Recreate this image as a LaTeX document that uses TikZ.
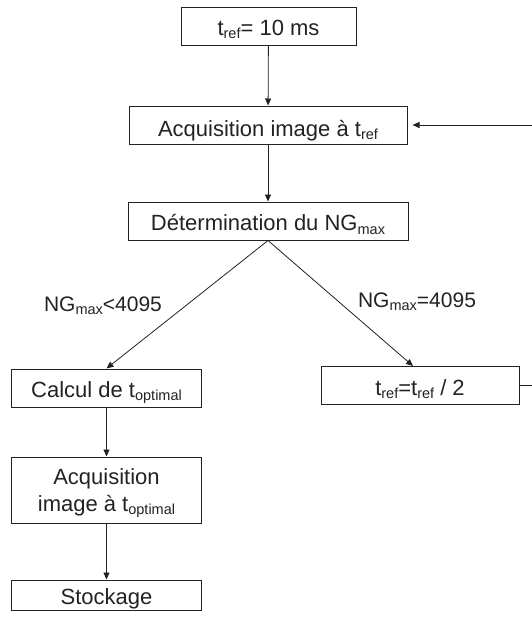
\documentclass[tikz,border=0pt]{standalone}
\usepackage{fontspec}
\setmainfont{Liberation Sans}
\usetikzlibrary{arrows.meta}
\newcommand\sbs[1]{\raisebox{-0.3ex}{\fontsize{14.5}{15}\selectfont #1}}
\definecolor{ink}{HTML}{222222}
\begin{document}
\begin{tikzpicture}[x=1pt,y=-1pt,
  box/.style={draw=ink,line width=1pt,rectangle,inner sep=0pt,text=ink,
    font=\fontsize{22}{25}\selectfont,align=center},
  one/.style={text height=#1,text depth=0pt},
  one/.default=19.5pt,
  lab/.style={text=ink,font=\fontsize{21}{24}\selectfont,inner sep=0pt},
  arr/.style={draw=ink,line width=0.8pt,-{Triangle[length=7pt,width=6pt]}}]
\clip (0,0) rectangle (532,619);
\node[box,one=18pt,minimum width=175pt,minimum height=38pt] (b1) at (268.5,26) {t\sbs{ref}= 10 ms};
\node[box,one=22pt,minimum width=278pt,minimum height=38pt] (b2) at (268,125) {Acquisition image à t\sbs{ref}};
\node[box,one,minimum width=280pt,minimum height=38pt] (b3) at (268,221) {Détermination du NG\sbs{max}};
\node[box,one=18pt,minimum width=190pt,minimum height=38pt] (b4) at (106.5,388) {Calcul de t\sbs{optimal}};
\node[box,one=19pt,minimum width=198pt,minimum height=38pt] (b5) at (420,385.5) {t\sbs{ref}=t\sbs{ref} / 2};
\node[box,minimum width=190pt,minimum height=66pt] (b6) at (106.5,490) {\rule{0pt}{22pt}Acquisition\\[2pt]image à t\sbs{optimal}};
\node[box,one=19pt,minimum width=190pt,minimum height=30pt] (b7) at (106.5,595) {Stockage};
\node[lab] (l1) at (103,306) {NG\sbs{max}<4095};
\node[lab] (l2) at (417,302) {NG\sbs{max}=4095};
\coordinate (r) at (545,385.5);
\draw[arr] (b1) -- (b2);
\draw[arr] (b2) -- (b3);
\draw[arr] (b3.south) -- (b4.north);
\draw[arr] (b3.south) -- ([xshift=-7pt]b5.north);
\draw[arr] (b4) -- (b6);
\draw[arr] (b6) -- (b7);
\draw[arr] (b5.east) -- (r) |- ([xshift=5pt]b2.east);
\end{tikzpicture}
\end{document}
